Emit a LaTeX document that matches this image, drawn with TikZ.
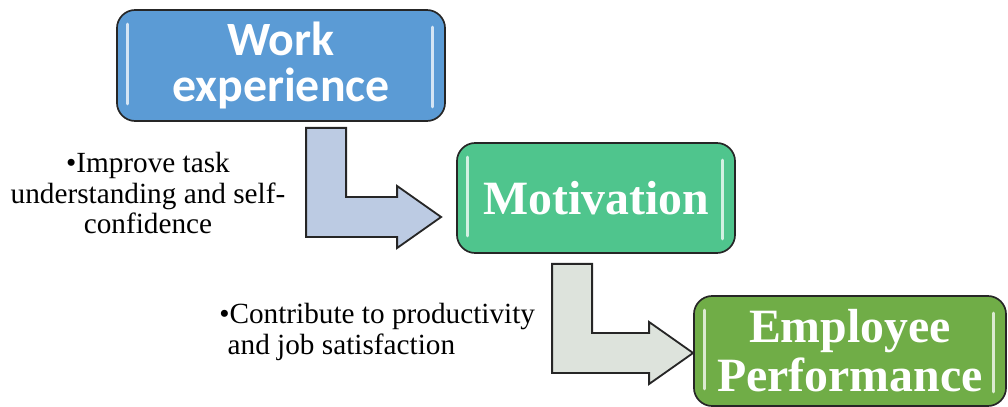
\documentclass[tikz,border=0pt]{standalone}
\usepackage{fontspec}
\setmainfont{Liberation Serif}
\newfontfamily\calibri{Carlito}
\usetikzlibrary{calc}

\definecolor{workblue}{HTML}{5B9BD5}
\definecolor{motivgreen}{HTML}{4FC58D}
\definecolor{perfgreen}{HTML}{70AD47}
\definecolor{arrowblue}{HTML}{BCCBE3}
\definecolor{arrowgrey}{HTML}{DDE3DC}

\tikzset{
  box/.style={draw=black!85, line width=1.2pt, rounded corners=13pt, text=white,
    font=\bfseries\fontsize{34}{35}\selectfont, align=center, inner sep=0pt},
  gloss/.style={white, opacity=0.75, line width=2pt, line cap=round},
  bent/.style={draw=black!85, line width=1.3pt, line join=miter},
  note/.style={font=\fontsize{20.8}{21.5}\selectfont, inner sep=0pt}
}

% bent block arrow: stem top-left corner, tip, fill colour
\newcommand{\bentarrow}[3]{%
  \path (#1) coordinate (stemtop);
  \path (#2) coordinate (tip) ++(-44,20) coordinate (barlow);
  \filldraw[bent, fill=#3] (stemtop |- barlow) -- (stemtop) -- ++(40,0) |- ($(tip)+(-44,-20)$)
    -- ($(tip)+(-44,-31)$) -- (tip) -- ($(tip)+(-44,31)$) -- (barlow) -- cycle;
}

\begin{document}
\begin{tikzpicture}[x=0.025cm, y=-0.025cm]
  \useasboundingbox (0,0) rectangle (1008,407);

  % The three stages
  \node[box, fill=workblue, minimum width=8.2cm, minimum height=2.775cm,
    font=\calibri\bfseries\fontsize{34}{33}\selectfont] (work) at (281,65.5) {Work\\experience};
  \node[box, fill=motivgreen, minimum width=6.95cm, minimum height=2.75cm] (motiv) at (596,198) {Motivation};
  \node[box, fill=perfgreen, minimum width=7.8cm, minimum height=2.75cm] (perf) at (850,351) {Employee\\Performance};

  % Highlights along the sides of each box
  \foreach \n in {work,motiv,perf} {
    \draw[gloss] ($(\n.north west)+(11,15)$) -- ($(\n.south west)+(11,-18)$);
    \draw[gloss] ($(\n.north east)+(-13,18)$) -- ($(\n.south east)+(-13,-15)$);
  }

  % Bent arrows between the stages
  \bentarrow{$(work.south west)+(190,6)$}{$(motiv.west)+(-15,19)$}{arrowblue}
  \bentarrow{$(motiv.south west)+(96,10)$}{$(perf.west)+(0,2)$}{arrowgrey}

  % Notes beside the arrows
  \node[note, align=center] (task) at (148,193) {•Improve task\\understanding and self-\\confidence};
  \node[note, align=left, anchor=west] (prod) at (219,332) {•Contribute to productivity\\\hspace*{6pt}and job satisfaction};
\end{tikzpicture}
\end{document}
